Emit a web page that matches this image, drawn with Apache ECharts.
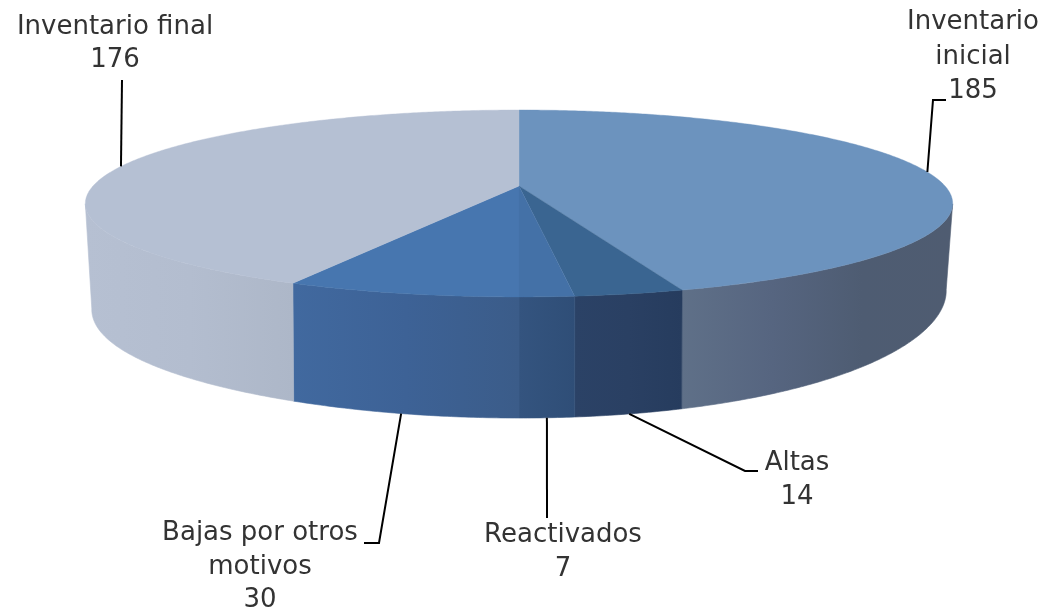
<!DOCTYPE html>
<html><head><meta charset="utf-8">
<style>html,body{margin:0;padding:0;background:#fff}#c{width:1047px;height:614px}</style>
<script src="https://cdn.jsdelivr.net/npm/echarts@6/dist/echarts.min.js"></script>
</head><body><div id="c"></div>
<script>
// Data
const categories = ['Inventario inicial','Altas','Reactivados','Bajas por otros motivos','Inventario final'];
const values = [185,14,7,30,176];
const labelLines = [['Inventario','inicial','185'],['Altas','14'],['Reactivados','7'],['Bajas por otros','motivos','30'],['Inventario final','176']];

// Styling
const topColors = ['#6C93BE','#3A6591','#4471A7','#4776AF','#B5C0D3'];
const wallStops = [
  ['#5F7088','#566580','#4E5C72','#4F5C71'],
  ['#2B4266','#2A4063','#263C5E'],
  ['#34547F','#2F4E77'],
  ['#41699F','#3D6296','#3B5C89'],
  ['#B6C0D2','#B3BDCF','#ADB7C8']
];
// Where each label sits and how its leader bends, in pixels
const labelLayout = [
  {x:973, y:[22,57,91], elbow:[[933,100],[946,100]], face:'top'},
  {x:797, y:[463,497], elbow:[[745,471],[758,471]], face:'bottom'},
  {x:563, y:[535,569], elbow:[[547,518]], face:'bottom'},
  {x:260, y:[533,567,600], elbow:[[379,543],[364,543]], face:'bottom'},
  {x:115, y:[27,60], elbow:[[122,80]], face:'top'}
];
const FONT = '"DejaVu Sans"';
const FONT_SIZE = 26;

// Perspective discs
const apex = [519,186];
const topDisc = {cx:519, cy:186, a:426, b:90.2, q:0.187, tilt:0};
const botDisc = {cx:519, cy:276.4, a:418.6, b:113.3, q:0.2, tilt:10};
function project(d, deg){
  const t = deg*Math.PI/180, u = Math.sin(t), v = Math.cos(t), w = 1 + d.q*v;
  return [d.cx + d.a*u/w, d.cy - d.b*v/w - d.tilt*u*u*u];
}
function arc(d, from, to){
  const n = Math.max(2, Math.ceil(Math.abs(to-from)*2)), pts = [];
  for(let i=0;i<=n;i++) pts.push(project(d, from+(to-from)*i/n));
  return pts;
}
const total = values.reduce((s,v)=>s+v,0);
const starts = []; let acc = 0;
values.forEach(v=>{starts.push(acc/total*360); acc+=v;});
const WALL_FROM = 101, WALL_TO = 259;

function renderItem(params, api){
  const i = api.value(0);
  const s = starts[i], e = s + api.value(1)/total*360, mid = (s+e)/2;
  const children = [];
  const wf = Math.max(s,WALL_FROM), wt = Math.min(e,WALL_TO);
  if(wt>wf){
    const t = arc(topDisc,wf,wt), b = arc(botDisc,wf,wt).reverse();
    const xs = t.concat(b).map(p=>p[0]);
    const stops = wallStops[i];
    const fill = {type:'linear',global:true,x:Math.min(...xs),y:0,x2:Math.max(...xs),y2:0,
      colorStops:stops.map((c,k)=>({offset:k/(stops.length-1),color:c}))};
    children.push({type:'polygon', shape:{points:t.concat(b)},
      style:{fill:fill, stroke:fill, lineWidth:0.6}});
  }
  const topPts = [apex].concat(arc(topDisc,s,e));
  children.push({type:'polygon', shape:{points:topPts}, style:{fill:topColors[i], stroke:topColors[i], lineWidth:0.4}, z2:2});
  const L = labelLayout[i];
  const anchor = project(L.face==='top'?topDisc:botDisc, mid);
  children.push({type:'polyline', shape:{points:[anchor].concat(L.elbow)},
    style:{stroke:'#000',lineWidth:2,fill:null}, z2:3});
  labelLines[i].forEach((txt,k)=>{
    children.push({type:'text', z2:4, style:{x:L.x,y:L.y[k],text:txt,
      fill:'#333',font:FONT_SIZE+'px '+FONT,align:'center',verticalAlign:'middle'}});
  });
  return {type:'group', children};
}
const chart = echarts.init(document.getElementById('c'),null,{renderer:'canvas',width:1047,height:614});
chart.setOption({
  backgroundColor:'#fff', animation:false,
  series:[{type:'custom', coordinateSystem:'none', renderItem,
    encode:{value:[1]},
    data:values.map((v,i)=>({name:categories[i],value:[i,v]}))}]
});
</script></body></html>
